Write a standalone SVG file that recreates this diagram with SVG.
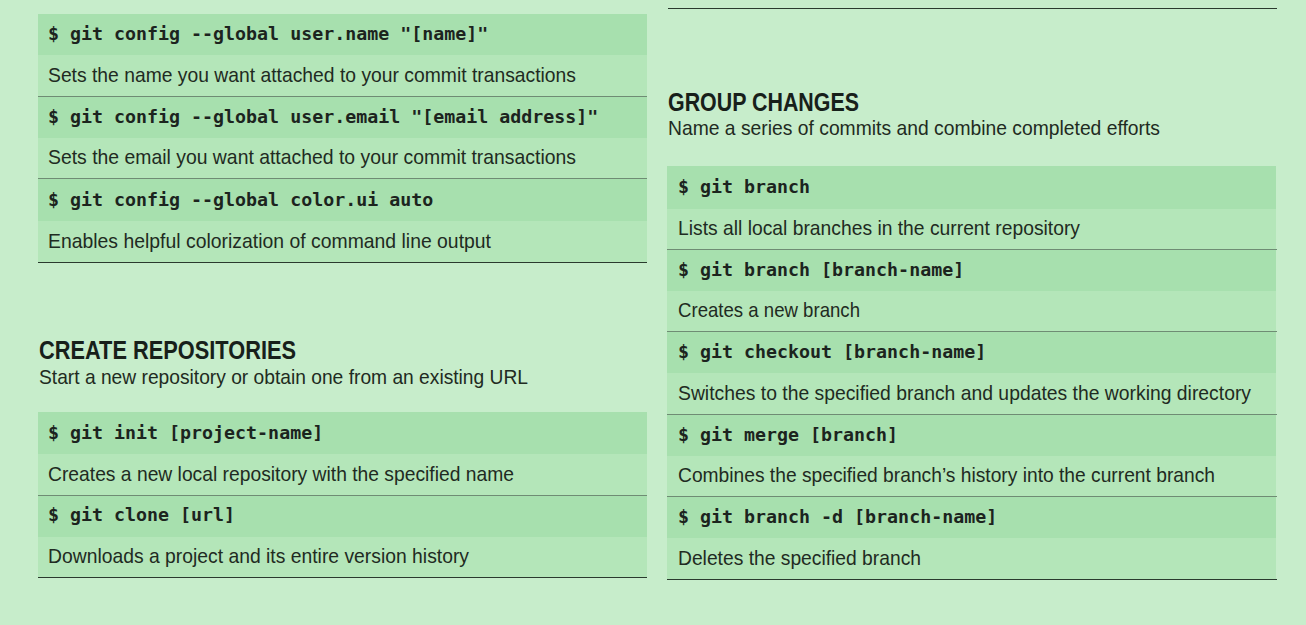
<svg xmlns="http://www.w3.org/2000/svg" width="1306" height="625" viewBox="0 0 1306 625">
<style>
.bg{fill:#c7edcb}
.cmdrow{fill:#a7e0ae}
.descrow{fill:#b4e6b9}
.cmd{font-family:"DejaVu Sans Mono","Liberation Mono",monospace;font-weight:bold;font-size:18.3px;fill:#1c241e}
.desc{font-family:"Liberation Sans","DejaVu Sans",sans-serif;font-size:21px;fill:#1f2b22}
.head{font-family:"Liberation Sans","DejaVu Sans",sans-serif;font-weight:bold;font-size:25px;fill:#17201a}
.sub{font-family:"Liberation Sans","DejaVu Sans",sans-serif;font-size:21px;fill:#1f2b22}
.sep{stroke:#6f8c74;stroke-width:1}
.end{stroke:#2a3a2e;stroke-width:1.2}
</style>
<rect class="bg" x="0" y="0" width="1306" height="625"/>

<g id="config-name">
<rect class="cmdrow" x="38" y="14" width="609" height="41"/>
<rect class="descrow" x="38" y="55" width="609" height="41"/>
<text class="cmd" x="48" y="40">$ git config --global user.name "[name]"</text>
<text class="desc" x="48" y="82" textLength="528" lengthAdjust="spacingAndGlyphs">Sets the name you want attached to your commit transactions</text>
</g>
<g id="config-email">
<rect class="cmdrow" x="38" y="96" width="609" height="42"/>
<rect class="descrow" x="38" y="138" width="609" height="40"/>
<text class="cmd" x="48" y="123">$ git config --global user.email "[email address]"</text>
<text class="desc" x="48" y="164" textLength="528" lengthAdjust="spacingAndGlyphs">Sets the email you want attached to your commit transactions</text>
</g>
<g id="config-color">
<rect class="cmdrow" x="38" y="178" width="609" height="43"/>
<rect class="descrow" x="38" y="221" width="609" height="41"/>
<text class="cmd" x="48" y="206">$ git config --global color.ui auto</text>
<text class="desc" x="48" y="248" textLength="443" lengthAdjust="spacingAndGlyphs">Enables helpful colorization of command line output</text>
</g>

<g id="create-repositories-heading">
<text class="head" x="39" y="359" textLength="257" lengthAdjust="spacingAndGlyphs">CREATE REPOSITORIES</text>
<text class="sub" x="39" y="384" textLength="489" lengthAdjust="spacingAndGlyphs">Start a new repository or obtain one from an existing URL</text>
</g>
<g id="git-init">
<rect class="cmdrow" x="38" y="412" width="609" height="42"/>
<rect class="descrow" x="38" y="454" width="609" height="41"/>
<text class="cmd" x="48" y="439">$ git init [project-name]</text>
<text class="desc" x="48" y="481" textLength="466" lengthAdjust="spacingAndGlyphs">Creates a new local repository with the specified name</text>
</g>
<g id="git-clone">
<rect class="cmdrow" x="38" y="495" width="609" height="42"/>
<rect class="descrow" x="38" y="537" width="609" height="40"/>
<text class="cmd" x="48" y="521">$ git clone [url]</text>
<text class="desc" x="48" y="563" textLength="421" lengthAdjust="spacingAndGlyphs">Downloads a project and its entire version history</text>
</g>

<g id="group-changes-heading">
<text class="head" x="668" y="111" textLength="191" lengthAdjust="spacingAndGlyphs">GROUP CHANGES</text>
<text class="sub" x="668" y="135" textLength="492" lengthAdjust="spacingAndGlyphs">Name a series of commits and combine completed efforts</text>
</g>
<g id="git-branch">
<rect class="cmdrow" x="667" y="166" width="609" height="43"/>
<rect class="descrow" x="667" y="209" width="609" height="40"/>
<text class="cmd" x="678" y="193">$ git branch</text>
<text class="desc" x="678" y="235" textLength="402" lengthAdjust="spacingAndGlyphs">Lists all local branches in the current repository</text>
</g>
<g id="git-branch-new">
<rect class="cmdrow" x="667" y="249" width="609" height="42"/>
<rect class="descrow" x="667" y="291" width="609" height="40"/>
<text class="cmd" x="678" y="276">$ git branch [branch-name]</text>
<text class="desc" x="678" y="317" textLength="182" lengthAdjust="spacingAndGlyphs">Creates a new branch</text>
</g>
<g id="git-checkout">
<rect class="cmdrow" x="667" y="331" width="609" height="42"/>
<rect class="descrow" x="667" y="373" width="609" height="41"/>
<text class="cmd" x="678" y="358">$ git checkout [branch-name]</text>
<text class="desc" x="678" y="400" textLength="573" lengthAdjust="spacingAndGlyphs">Switches to the specified branch and updates the working directory</text>
</g>
<g id="git-merge">
<rect class="cmdrow" x="667" y="414" width="609" height="42"/>
<rect class="descrow" x="667" y="456" width="609" height="41"/>
<text class="cmd" x="678" y="441">$ git merge [branch]</text>
<text class="desc" x="678" y="482" textLength="537" lengthAdjust="spacingAndGlyphs">Combines the specified branch’s history into the current branch</text>
</g>
<g id="git-branch-delete">
<rect class="cmdrow" x="667" y="497" width="609" height="41"/>
<rect class="descrow" x="667" y="538" width="609" height="41"/>
<text class="cmd" x="678" y="523">$ git branch -d [branch-name]</text>
<text class="desc" x="678" y="565" textLength="243" lengthAdjust="spacingAndGlyphs">Deletes the specified branch</text>
</g>

<g id="connectors">
<line class="end" x1="668" y1="8.5" x2="1277" y2="8.5"/>
<line class="sep" x1="38" y1="96.5" x2="647" y2="96.5"/>
<line class="sep" x1="38" y1="178.5" x2="647" y2="178.5"/>
<line class="end" x1="38" y1="262.5" x2="647" y2="262.5"/>
<line class="sep" x1="38" y1="495.5" x2="647" y2="495.5"/>
<line class="end" x1="38" y1="577.5" x2="647" y2="577.5"/>
<line class="sep" x1="667" y1="249.5" x2="1277" y2="249.5"/>
<line class="sep" x1="667" y1="331.5" x2="1277" y2="331.5"/>
<line class="sep" x1="667" y1="414.5" x2="1277" y2="414.5"/>
<line class="sep" x1="667" y1="496.5" x2="1277" y2="496.5"/>
<line class="end" x1="667" y1="579.5" x2="1277" y2="579.5"/>
</g>
</svg>
